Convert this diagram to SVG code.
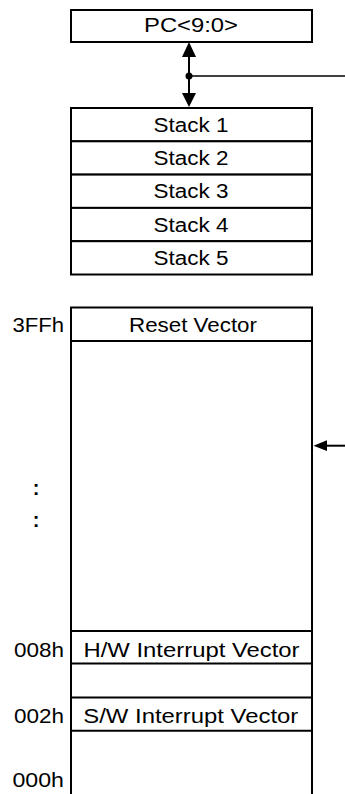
<svg xmlns="http://www.w3.org/2000/svg" width="345" height="794" viewBox="0 0 345 794">
<style>
  .box { fill: #ffffff; stroke: #000000; stroke-width: 2; }
  .ln { stroke: #000000; stroke-width: 2; fill: none; }
  .t { font-family: "Liberation Sans", Arial, sans-serif; font-size: 20px; fill: #000000; }
  .c { text-anchor: middle; }
  .r { text-anchor: end; }
</style>
<rect x="0" y="0" width="345" height="794" fill="#ffffff"/>

<g id="pc">
  <rect class="box" x="71" y="10" width="241" height="32"/>
  <text class="t c" x="191" y="31.7" textLength="94" lengthAdjust="spacingAndGlyphs">PC&lt;9:0&gt;</text>
</g>

<g id="stack">
  <g id="stack1">
    <rect class="box" x="71" y="108" width="241" height="33.3"/>
    <text class="t c" x="191" y="131.7" textLength="75" lengthAdjust="spacingAndGlyphs">Stack 1</text>
  </g>
  <g id="stack2">
    <rect class="box" x="71" y="141.3" width="241" height="33.3"/>
    <text class="t c" x="191" y="165" textLength="75" lengthAdjust="spacingAndGlyphs">Stack 2</text>
  </g>
  <g id="stack3">
    <rect class="box" x="71" y="174.6" width="241" height="33.3"/>
    <text class="t c" x="191" y="198.3" textLength="75" lengthAdjust="spacingAndGlyphs">Stack 3</text>
  </g>
  <g id="stack4">
    <rect class="box" x="71" y="207.9" width="241" height="33.3"/>
    <text class="t c" x="191" y="231.6" textLength="75" lengthAdjust="spacingAndGlyphs">Stack 4</text>
  </g>
  <g id="stack5">
    <rect class="box" x="71" y="241.2" width="241" height="33.3"/>
    <text class="t c" x="191" y="264.9" textLength="75" lengthAdjust="spacingAndGlyphs">Stack 5</text>
  </g>
</g>

<g id="memory">
  <path class="ln" d="M71,796 V307.5 H312 V796"/>
  <g id="reset-vector">
    <line class="ln" x1="71" y1="341" x2="312" y2="341"/>
    <text class="t c" x="193" y="331.7" textLength="128" lengthAdjust="spacingAndGlyphs">Reset Vector</text>
  </g>
  <g id="hw-vector">
    <line class="ln" x1="71" y1="631" x2="312" y2="631"/>
    <line class="ln" x1="71" y1="663.5" x2="312" y2="663.5"/>
    <text class="t c" x="191.5" y="656.7" textLength="216" lengthAdjust="spacingAndGlyphs">H/W Interrupt Vector</text>
  </g>
  <g id="sw-vector">
    <line class="ln" x1="71" y1="697.5" x2="312" y2="697.5"/>
    <line class="ln" x1="71" y1="730.7" x2="312" y2="730.7"/>
    <text class="t c" x="190.8" y="722.5" textLength="215" lengthAdjust="spacingAndGlyphs">S/W Interrupt Vector</text>
  </g>
</g>

<g id="addresses">
  <text class="t r" x="64" y="331.7" textLength="51.5" lengthAdjust="spacingAndGlyphs">3FFh</text>
  <text class="t c" x="36" y="495" font-size="22" font-weight="bold">:</text>
  <text class="t c" x="36" y="527" font-size="22" font-weight="bold">:</text>
  <text class="t r" x="64" y="656.7" textLength="50" lengthAdjust="spacingAndGlyphs">008h</text>
  <text class="t r" x="64" y="722.5" textLength="50" lengthAdjust="spacingAndGlyphs">002h</text>
  <text class="t r" x="64" y="786.7" textLength="51.5" lengthAdjust="spacingAndGlyphs">000h</text>
</g>

<g id="connectors">
  <line class="ln" x1="189" y1="55" x2="189" y2="95"/>
  <polygon points="189,42 182,57 196,57" fill="#000000"/>
  <polygon points="189,107 182,93 196,93" fill="#000000"/>
  <circle cx="189" cy="76" r="3.5" fill="#000000"/>
  <line x1="189" y1="76" x2="345" y2="76" stroke="#000000" stroke-width="1.5"/>
  <line class="ln" x1="325" y1="445.7" x2="345" y2="445.7"/>
  <polygon points="313.5,445.7 327,440.3 327,451.1" fill="#000000"/>
</g>
</svg>
